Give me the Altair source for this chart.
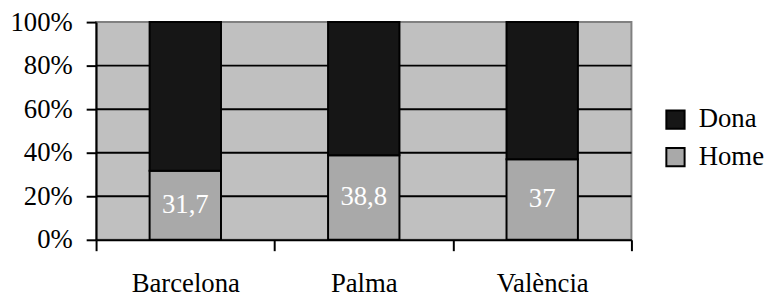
import altair as alt
import pandas as pd

cities = ["Barcelona", "Palma", "València"]
home = [31.7, 38.8, 37.0]
home_labels = ["31,7", "38,8", "37"]
series = ["Dona", "Home"]
grid_vals = [20, 40, 60, 80]
y_ticks = [0, 20, 40, 60, 80, 100]

rows = []
for c, h in zip(cities, home):
    rows.append({"city": c, "sexe": "Home", "val": h, "ord": 0})
    rows.append({"city": c, "sexe": "Dona", "val": round(100 - h, 1), "ord": 1})
df = pd.DataFrame(rows)
lab = pd.DataFrame({"city": cities, "mid": [h / 2 for h in home], "label": home_labels})
grid = pd.DataFrame({"g": grid_vals})

FONT = "Liberation Serif"
FS = 27

yscale = alt.Scale(domain=[0, 100], nice=False)

x = alt.X("city:N", sort=cities, title=None,
          scale=alt.Scale(paddingInner=0, paddingOuter=0),
          axis=alt.Axis(tickBand="extent", labelAngle=0, labelFont=FONT, labelFontSize=FS,
                        labelColor="black", labelPadding=20, tickSize=11, tickColor="black",
                        domainColor="black", tickWidth=2, domainWidth=2, grid=False))

gridlines = alt.Chart(grid).mark_rule(color="black", strokeWidth=2).encode(
    y=alt.Y("g:Q", scale=yscale, title=None,
            axis=alt.Axis(values=y_ticks, labelExpr="datum.value + '%'",
                          labelFont=FONT, labelFontSize=FS, labelColor="black",
                          labelPadding=14, tickSize=10, tickColor="black", tickWidth=2,
                          domainColor="black", domainWidth=2, grid=False)),
)

bars = alt.Chart(df).mark_bar(width={"band": 0.4}, stroke="black", strokeWidth=2).encode(
    x=x,
    y=alt.Y("val:Q", stack="zero", scale=yscale, title=None),
    color=alt.Color("sexe:N", scale=alt.Scale(domain=series, range=["#161616", "#a9a9a9"]),
                    legend=alt.Legend(title=None, orient="none", legendX=572, legendY=85,
                                      padding=0, symbolType="square", symbolSize=340,
                                      symbolStrokeColor="black", symbolStrokeWidth=2,
                                      labelFont=FONT, labelFontSize=FS, labelColor="black",
                                      rowPadding=10, labelOffset=10)),
    order=alt.Order("ord:Q"),
)

text = alt.Chart(lab).mark_text(font=FONT, fontSize=FS, color="white", baseline="middle").encode(
    x=alt.X("city:N", sort=cities),
    y=alt.Y("mid:Q", scale=yscale),
    text="label:N",
)

chart = (gridlines + bars + text).properties(
    width=541, height=220,
    autosize=alt.AutoSizeParams(type="none"),
    padding={"left": 89, "top": 12.7, "right": 138, "bottom": 61},
    background="white",
).configure_view(fill="#c0c0c0", stroke="#808080", strokeWidth=2)

chart.save("out.html", embed_options={"renderer": "svg", "actions": False})
